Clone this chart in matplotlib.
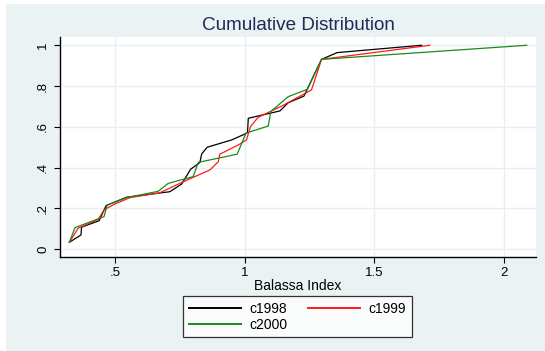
import numpy as np
import matplotlib
matplotlib.use("Agg")
import matplotlib.pyplot as plt
from matplotlib.patches import Rectangle

plt.rcParams['font.family'] = ['Liberation Sans', 'DejaVu Sans']

# cumulative distribution of the Balassa index, one curve per year
x1998 = [0.322, 0.367, 0.369, 0.437, 0.449, 0.464, 0.543, 0.710, 0.756, 0.790,
         0.826, 0.833, 0.854, 0.949, 1.000, 1.010, 1.013, 1.135, 1.167, 1.228,
         1.270, 1.296, 1.356, 1.682]
y1998 = [0.034, 0.070, 0.108, 0.140, 0.173, 0.214, 0.255, 0.282, 0.320, 0.392,
         0.425, 0.467, 0.500, 0.536, 0.565, 0.572, 0.642, 0.678, 0.718, 0.751,
         0.863, 0.931, 0.964, 1.000]

x1999 = [0.322, 0.356, 0.434, 0.456, 0.498, 0.556, 0.672, 0.762, 0.865, 0.897,
         0.903, 0.974, 1.006, 1.022, 1.051, 1.142, 1.257, 1.296, 1.714]
y1999 = [0.034, 0.103, 0.147, 0.193, 0.222, 0.253, 0.277, 0.331, 0.389, 0.429,
         0.466, 0.511, 0.536, 0.602, 0.647, 0.702, 0.781, 0.931, 1.000]

x2000 = [0.322, 0.344, 0.456, 0.468, 0.543, 0.665, 0.704, 0.800, 0.820, 0.970,
         1.004, 1.013, 1.090, 1.100, 1.167, 1.241, 1.296, 2.088]
y2000 = [0.034, 0.106, 0.160, 0.217, 0.253, 0.284, 0.323, 0.356, 0.426, 0.466,
         0.569, 0.573, 0.604, 0.675, 0.748, 0.784, 0.931, 1.000]

xticks = [0.5, 1, 1.5, 2]
xticklabels = ['.5', '1', '1.5', '2']
yticks = [0, 0.2, 0.4, 0.6, 0.8, 1]
yticklabels = ['0', '.2', '.4', '.6', '.8', '1']

bg = '#EAF2F3'
fig = plt.figure(figsize=(5.45, 3.51), dpi=100, facecolor='white')
fig.patches.append(Rectangle((6 / 545, 0), 1, 1 - 4 / 351, transform=fig.transFigure,
                             facecolor=bg, edgecolor='none', zorder=-10))

ax = fig.add_axes([0.1106, 0.2678, 0.9835 - 0.1106, 0.8937 - 0.2678])
ax.set_facecolor('white')

l1, = ax.plot(x1998, y1998, color='black', lw=0.9, label='c1998')
l2, = ax.plot(x1999, y1999, color='#FF1A1A', lw=0.9, label='c1999')
l3, = ax.plot(x2000, y2000, color='#1A8A1A', lw=0.9, label='c2000')

ax.set_xlim(0.287, 2.124)
ax.set_ylim(-0.038, 1.039)
ax.set_xticks(xticks)
ax.set_xticklabels(xticklabels)
ax.set_yticks(yticks)
ax.set_yticklabels(yticklabels, rotation=90, va='center')
ax.grid(True, color='#E6EFF1', lw=1.0)
ax.set_axisbelow(True)

for s in ['top', 'right']:
    ax.spines[s].set_visible(False)
for s in ['left', 'bottom']:
    ax.spines[s].set_linewidth(1.0)
ax.tick_params(axis='both', labelsize=9.5, length=4, width=0.8, colors='black')
ax.tick_params(axis='x', pad=3)
ax.tick_params(axis='y', pad=4)

ax.set_xlabel('Balassa Index', fontsize=10, labelpad=0.5)
fig.text(0.547, 0.926, 'Cumulative Distribution', ha='center', va='center',
         fontsize=13.6, color='#1C2D55')

leg = fig.legend([l1, l3, l2], ['c1998', 'c2000', 'c1999'], ncol=2,
                 loc='center', bbox_to_anchor=(0.5459, 0.0977), fontsize=10,
                 frameon=True, fancybox=False, edgecolor='black',
                 handlelength=3.75, handletextpad=0.6, columnspacing=1.5,
                 labelspacing=0.15, borderpad=0.4)
leg.get_frame().set_linewidth(0.9)
for h in leg.get_lines():
    h.set_linewidth(1.4)

fig.savefig('out.png', dpi=100, facecolor=fig.get_facecolor())
